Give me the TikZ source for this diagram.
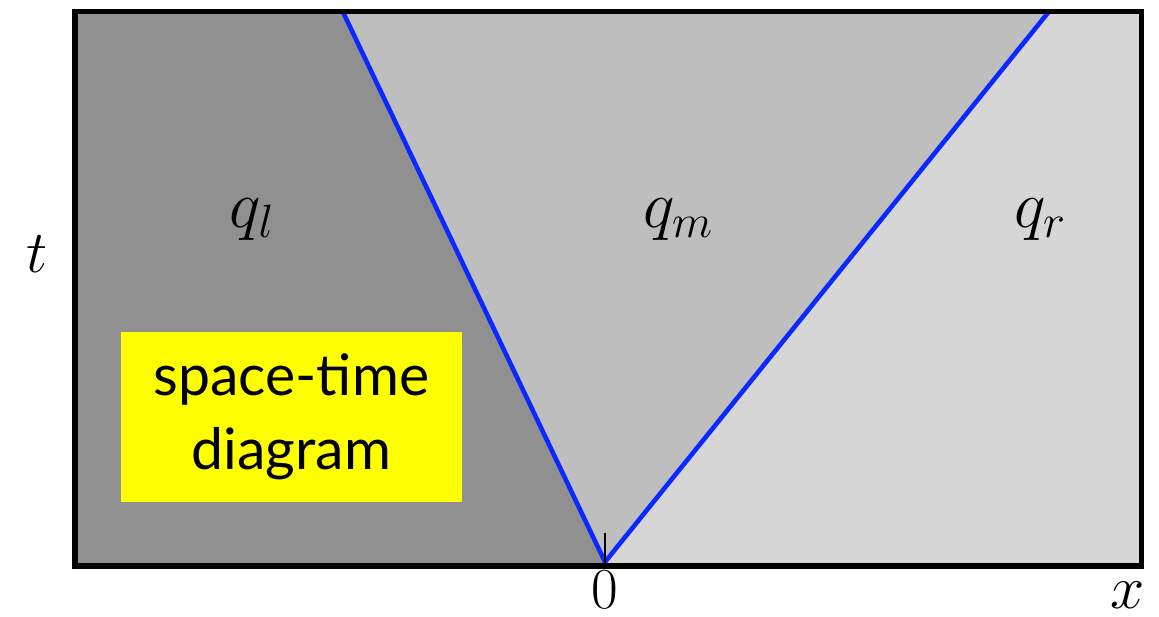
\documentclass[tikz,border=0pt]{standalone}
\usepackage{fix-cm}
\usepackage{fontspec}
\newfontfamily\boxfont{Lato}
\definecolor{gdark}{HTML}{909090}
\definecolor{gmid}{HTML}{BEBEBE}
\definecolor{glight}{HTML}{D6D6D6}
\definecolor{wave}{RGB}{10,40,255}
\definecolor{note}{RGB}{255,255,0}
\tikzset{
  waveline/.style={draw=wave, line width=2.6pt, line cap=round},
  framebox/.style={draw=black, line width=2.9pt},
  lbl/.style={inner sep=0pt, anchor=center},
}
\begin{document}
\begin{tikzpicture}[x=0.02cm, y=-0.02cm]
\useasboundingbox (0,0) rectangle (1159,617);
% corners
\coordinate (tl) at (75,11.5);
\coordinate (tr) at (1141.5,11.5);
\coordinate (br) at (1141.5,566);
\coordinate (bl) at (75,566);
\coordinate (o) at (605,562);
\coordinate (ob) at (605,566);
\coordinate (lt) at (342.7,11.5);
\coordinate (rt) at (1049,11.5);
\coordinate (tick) at (605,533);
% regions
\fill[glight] (tl) rectangle (br);
\fill[gdark] (tl) -- (lt) -- (o) -- (ob) -- (bl) -- cycle;
\fill[gmid] (lt) -- (rt) -- (o) -- cycle;
% yellow note
\node[fill=note, minimum width=341*0.02cm, minimum height=170*0.02cm, inner sep=0pt,
      align=center, font=\boxfont\fontsize{32.5}{42.5}\selectfont] (nb) at (291.3,416.7)
      {space-time\\diagram};
% waves
\draw[waveline] (o) -- (lt);
\draw[waveline] (o) -- (rt);
\draw[line width=1.1pt] (tick) -- (ob);
% frame
\draw[framebox] (tl) rectangle (br);
% labels
\node[lbl, font=\fontsize{38}{40}\selectfont] (ql) at (252,220) {$q_l$};
\node[lbl, font=\fontsize{38}{40}\selectfont] (qm) at (678,220) {$q_m$};
\node[lbl, font=\fontsize{38}{40}\selectfont] (qr) at (1040,220) {$q_r$};
\node[lbl, font=\fontsize{34}{36}\selectfont] (t) at (37,254) {$t$};
\node[lbl, font=\fontsize{33}{35}\selectfont] (zero) at (605,590) {$0$};
\node[lbl, font=\fontsize{35}{37}\selectfont] (x) at (1128,595) {$x$};
\end{tikzpicture}
\end{document}
